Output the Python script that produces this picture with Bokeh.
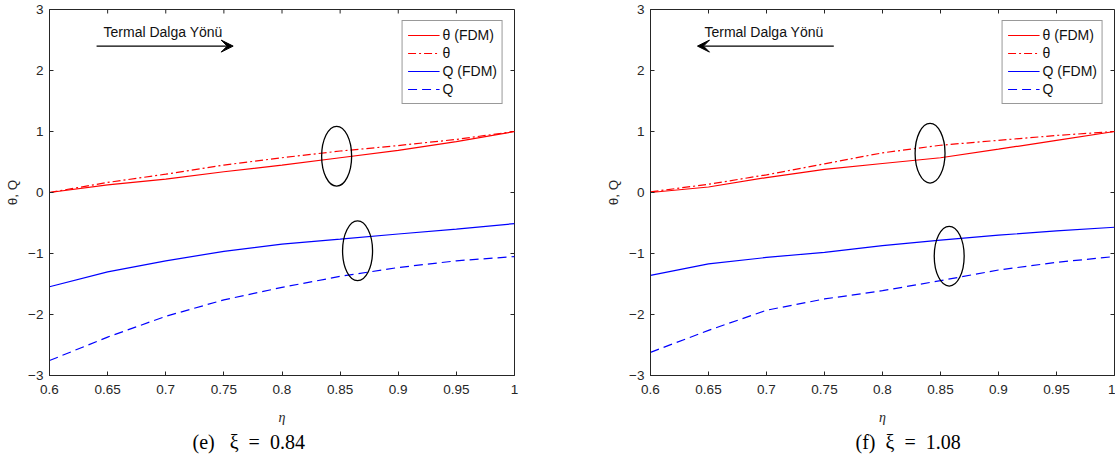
from bokeh.plotting import figure
from bokeh.models import (FixedTicker, Legend, LegendItem, Arrow, VeeHead, Title)
from bokeh.layouts import row
from bokeh.embed import file_html
from bokeh.resources import INLINE
from bokeh.core.properties import value

# ---------------- data ----------------
eta = [0.6, 0.65, 0.7, 0.75, 0.8, 0.85, 0.9, 0.95, 1.0]
x_ticks = [0.6, 0.65, 0.7, 0.75, 0.8, 0.85, 0.9, 0.95, 1.0]
x_tick_labels = ["0.6", "0.65", "0.7", "0.75", "0.8", "0.85", "0.9", "0.95", "1"]
y_ticks = [-3, -2, -1, 0, 1, 2, 3]

e_theta_fdm = [0.0, 0.125, 0.22, 0.34, 0.45, 0.57, 0.69, 0.835, 1.0]
e_theta = [0.0, 0.165, 0.30, 0.45, 0.57, 0.68, 0.77, 0.87, 1.0]
e_q_fdm = [-1.545, -1.30, -1.12, -0.965, -0.845, -0.765, -0.68, -0.60, -0.51]
e_q = [-2.755, -2.37, -2.03, -1.76, -1.555, -1.375, -1.23, -1.12, -1.05]

f_theta_fdm = [0.0, 0.09, 0.245, 0.38, 0.475, 0.57, 0.71, 0.855, 1.0]
f_theta = [0.01, 0.135, 0.29, 0.47, 0.65, 0.775, 0.855, 0.935, 1.0]
f_q_fdm = [-1.36, -1.17, -1.065, -0.98, -0.87, -0.78, -0.70, -0.63, -0.57]
f_q = [-2.62, -2.26, -1.93, -1.745, -1.61, -1.445, -1.27, -1.145, -1.05]

legend_labels = ["\u03b8 (FDM)", "\u03b8", "Q (FDM)", "Q"]
captions = ["(e)\u2002 \u03be\u2002=\u20020.84", "(f)\u2002\u03be\u2002=\u20021.08"]
annot_text = "Termal Dalga Y\u00f6n\u00fc"

# ellipse annotations (centre x, centre y)
e_ell_x = [0.847, 0.865]
e_ell_y = [0.595, -0.956]
f_ell_x = [0.841, 0.8575]
f_ell_y = [0.644, -1.044]
ell_w = 0.0258
ell_h = 0.98

AX = "#262626"
SANS = "Liberation Sans"
FIG_H = 454
TOP_B = 9
BOTTOM_B = 79
FRAME_H = FIG_H - TOP_B - BOTTOM_B
TICK_PX = 4

styles = [
    dict(line_color="#ff0000"),
    dict(line_color="#ff0000", line_dash="8 3 2 3"),
    dict(line_color="#0000ff"),
    dict(line_color="#0000ff", line_dash="9 5"),
]


def make_panel(series, ell_x, ell_y, caption, arrow_dir,
               min_left, frame_w, min_right, cap_offset):
    width = min_left + frame_w + min_right
    p = figure(width=width, height=FIG_H, x_range=(0.6, 1.0), y_range=(-3, 3),
               output_backend="svg", toolbar_location=None,
               min_border_left=min_left, min_border_right=min_right,
               min_border_top=TOP_B, min_border_bottom=BOTTOM_B)
    p.grid.visible = False
    p.outline_line_color = AX
    p.outline_line_width = 1
    p.background_fill_color = "white"
    p.border_fill_color = "white"

    for ax in (p.xaxis[0], p.yaxis[0]):
        ax.major_tick_in = TICK_PX
        ax.major_tick_out = 0
        ax.minor_tick_line_color = None
        ax.axis_line_color = AX
        ax.major_tick_line_color = AX
        ax.major_label_text_color = AX
        ax.major_label_text_font = SANS
        ax.major_label_text_font_size = "13.5px"
    p.xaxis.ticker = FixedTicker(ticks=x_ticks)
    p.xaxis.major_label_overrides = {t: s for t, s in zip(x_ticks, x_tick_labels)}
    p.xaxis.major_label_standoff = 9
    p.xaxis.axis_label = "\u03b7"
    p.xaxis.axis_label_text_font = "Liberation Serif"
    p.xaxis.axis_label_text_font_style = "italic"
    p.xaxis.axis_label_text_font_size = "14px"
    p.xaxis.axis_label_text_color = AX
    p.xaxis.axis_label_standoff = 13

    p.yaxis.ticker = FixedTicker(ticks=y_ticks)
    p.yaxis.major_label_standoff = 6
    p.yaxis.axis_label = "\u03b8, Q"
    p.yaxis.axis_label_text_font = SANS
    p.yaxis.axis_label_text_font_style = "normal"
    p.yaxis.axis_label_text_font_size = "13.5px"
    p.yaxis.axis_label_text_color = AX
    p.yaxis.axis_label_standoff = 5

    # inward ticks on the top and right edges (box on)
    dy = 6.0 * TICK_PX / FRAME_H
    dx = 0.4 * TICK_PX / frame_w
    p.segment(x0=x_ticks, y0=[3] * len(x_ticks), x1=x_ticks, y1=[3 - dy] * len(x_ticks),
              line_color=AX, line_width=1)
    p.segment(x0=[1.0] * len(y_ticks), y0=y_ticks, x1=[1.0 - dx] * len(y_ticks), y1=y_ticks,
              line_color=AX, line_width=1)

    renderers = [p.line(eta, ys, line_width=1.2, **st) for ys, st in zip(series, styles)]

    p.ellipse(x=ell_x, y=ell_y, width=ell_w, height=ell_h, fill_color=None,
              line_color="black", line_width=1.3)

    p.text(x=[0.6465], y=[2.635], text=[annot_text], text_font=value(SANS),
           text_font_size="14px", text_color="#111111", text_baseline="middle",
           text_align="left")
    if arrow_dir > 0:
        xs, xe = 0.6405, 0.758
    else:
        xs, xe = 0.758, 0.6405
    p.add_layout(Arrow(x_start=xs, y_start=2.40, x_end=xe, y_end=2.40, line_width=1.2,
                       line_color="black",
                       end=VeeHead(size=12, fill_color="black", line_color="black")))

    items = [LegendItem(label=l, renderers=[r]) for l, r in zip(legend_labels, renderers)]
    leg = Legend(items=items, location="top_right", margin=11, padding=5, spacing=0,
                 label_height=18, glyph_height=18, glyph_width=32, label_standoff=3,
                 label_text_font=SANS, label_text_font_size="14px", label_text_color="#111111",
                 border_line_color="#333333", border_line_width=1,
                 background_fill_color="white", background_fill_alpha=1)
    p.add_layout(leg)

    t = Title(text=caption, align="left", offset=cap_offset, text_font="Liberation Serif",
              text_font_size="20px", text_font_style="normal", text_color="black",
              standoff=3)
    p.add_layout(t, "below")
    return p


p1 = make_panel([e_theta_fdm, e_theta, e_q_fdm, e_q], e_ell_x, e_ell_y, captions[0], 1,
                min_left=49, frame_w=465, min_right=50, cap_offset=143)
p2 = make_panel([f_theta_fdm, f_theta, f_q_fdm, f_q], f_ell_x, f_ell_y, captions[1], -1,
                min_left=86, frame_w=464, min_right=1, cap_offset=205)

layout = row(p1, p2)
open("out.html", "w").write(file_html(layout, INLINE))
